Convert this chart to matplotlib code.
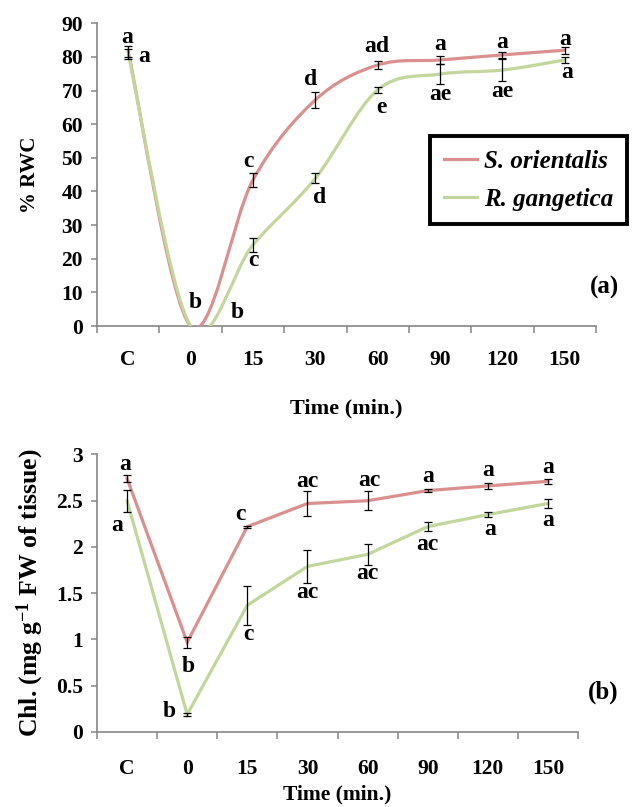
import numpy as np
import matplotlib
matplotlib.use("Agg")
import matplotlib.pyplot as plt
from matplotlib.path import Path
from matplotlib.patches import PathPatch
from matplotlib.lines import Line2D

plt.rcParams['font.family'] = ['Liberation Serif', 'DejaVu Serif']
plt.rcParams['font.weight'] = 'bold'
plt.rcParams['mathtext.fontset'] = 'custom'
plt.rcParams['mathtext.rm'] = 'Liberation Serif:bold'
plt.rcParams['mathtext.bf'] = 'Liberation Serif:bold'
plt.rcParams['mathtext.it'] = 'Liberation Serif:bold:italic'

# ---------------- data ----------------
categories = ['C', '0', '15', '30', '60', '90', '120', '150']
series_names = ['S. orientalis', 'R. gangetica']

rwc_so = [81.6, 0.0, 43.4, 67.2, 77.6, 79.1, 80.6, 82.0]
rwc_so_err = [1.7, 0.0, 2.2, 2.5, 1.2, 1.3, 1.0, 1.0]
rwc_rg = [81.0, 0.0, 24.1, 43.9, 70.2, 74.9, 76.1, 79.1]
rwc_rg_err = [1.5, 0.0, 2.0, 1.5, 1.0, 2.9, 3.2, 1.0]

chl_so = [2.74, 0.97, 2.22, 2.47, 2.50, 2.61, 2.66, 2.71]
chl_so_err = [0.04, 0.06, 0.01, 0.13, 0.10, 0.02, 0.03, 0.03]
chl_rg = [2.50, 0.19, 1.37, 1.79, 1.92, 2.22, 2.35, 2.47]
chl_rg_err = [0.12, 0.02, 0.21, 0.18, 0.11, 0.05, 0.03, 0.05]

rwc_so_letters = ['a', 'b', 'c', 'd', 'ad', 'a', 'a', 'a']
rwc_rg_letters = ['a', 'b', 'c', 'd', 'e', 'ae', 'ae', 'a']
chl_so_letters = ['a', 'b', 'c', 'ac', 'ac', 'a', 'a', 'a']
chl_rg_letters = ['a', 'b', 'c', 'ac', 'ac', 'ac', 'a', 'a']

rwc_yticks = [0, 10, 20, 30, 40, 50, 60, 70, 80, 90]
chl_yticks = [0, 0.5, 1, 1.5, 2, 2.5, 3]
chl_yticklabels = ['0', '0.5', '1', '1.5', '2', '2.5', '3']

# ---------------- style / positions ----------------
RED = '#D9908F'
GREEN = '#C3D69B'
SPINE = '#868686'
LW = 2.3
TICK_FS = 15.5
LETTER_FS = 17

# letter offsets in pixels (label centre relative to the point)
rwc_so_off = [(-1, 14), (5, 24), (-5, 19), (-5, 20.5), (-1, 18.5), (0, 15), (0, 12), (0, 11)]
rwc_rg_off = [(16, -3), (47, 14), (0, -16), (4, -19), (4, -18), (0, -20.4), (0, -21.5), (2, -13)]
chl_so_off = [(-2, 14.5), (1, -24), (-7, 12.6), (0, 22.5), (2, 20), (0, 13.6), (0, 15), (0, 14)]
chl_rg_off = [(-10, -25), (-18, 3), (1, -29), (0, -25.6), (0, -19.6), (0, -17.4), (2, -14.4), (0, -16.5)]


def smooth_path(xs, ys):
    """Catmull-Rom style Bezier path through the points (like Excel smoothed lines)."""
    pts = np.column_stack([xs, ys]).astype(float)
    n = len(pts)
    verts = [pts[0]]
    codes = [Path.MOVETO]
    for i in range(n - 1):
        p0 = pts[i - 1] if i > 0 else pts[i]
        p1 = pts[i]
        p2 = pts[i + 1]
        p3 = pts[i + 2] if i + 2 < n else pts[i + 1]
        c1 = p1 + (p2 - p0) / 6.0
        c2 = p2 - (p3 - p1) / 6.0
        verts += [c1, c2, p2]
        codes += [Path.CURVE4] * 3
    return Path(verts, codes)


def style_axes(ax, ylim, yticks, yticklabels=None, xpad=17):
    x = np.arange(len(categories))
    ax.set_xlim(-0.5, len(categories) - 0.5)
    ax.set_ylim(*ylim)
    ax.set_xticks(np.arange(-0.5, len(categories)), minor=False)
    ax.set_xticklabels([])
    ax.set_xticks(x, minor=True)
    ax.set_xticklabels(categories, minor=True)
    ax.tick_params(axis='x', which='major', direction='out', length=5, width=1.1, color=SPINE)
    ax.tick_params(axis='x', which='minor', length=0, pad=xpad, labelsize=TICK_FS)
    ax.set_yticks(yticks)
    if yticklabels is not None:
        ax.set_yticklabels(yticklabels)
    ax.tick_params(axis='y', direction='out', length=4, width=1.1, color=SPINE, pad=6,
                   labelsize=TICK_FS)
    for s in ['top', 'right']:
        ax.spines[s].set_visible(False)
    for s in ['left', 'bottom']:
        ax.spines[s].set_color(SPINE)
        ax.spines[s].set_linewidth(1.2)
    for lab in ax.get_xticklabels(minor=True) + ax.get_yticklabels():
        lab.set_fontweight('bold')


def draw_errors(ax, vals, errs):
    x = np.arange(len(vals))
    v = np.array(vals)
    e = np.array(errs)
    m = e > 0
    ax.errorbar(x[m], v[m], yerr=e[m], fmt='none', ecolor='black', elinewidth=0.9,
                capsize=2.6, capthick=0.9, zorder=5)


def draw_letters(ax, vals, letters, offs, size=LETTER_FS):
    for i, (v, t, o) in enumerate(zip(vals, letters, offs)):
        ax.annotate(t, (i, v), xytext=o, textcoords='offset pixels', ha='center', va='center',
                    fontsize=size, fontweight='bold', annotation_clip=False, zorder=6)


fig = plt.figure(figsize=(6.33, 8.07), dpi=100)

# ---------------- panel (a) ----------------
ax1 = fig.add_axes([0.15324, 0.59603, 0.78831, 0.37509])
style_axes(ax1, (0, 90), rwc_yticks, xpad=17)
x = np.arange(len(categories))
for vals, col in [(rwc_so, RED), (rwc_rg, GREEN)]:
    ax1.add_patch(PathPatch(smooth_path(x, vals), facecolor='none', edgecolor=col, lw=LW,
                            capstyle='round', joinstyle='round', zorder=3))
draw_errors(ax1, rwc_so, rwc_so_err)
draw_errors(ax1, rwc_rg, rwc_rg_err)
draw_letters(ax1, rwc_so, rwc_so_letters, rwc_so_off)
draw_letters(ax1, rwc_rg, rwc_rg_letters, rwc_rg_off)

ax1.set_xlabel('Time (min.)', fontsize=16, fontweight='bold', labelpad=21)
ax1.set_ylabel('% RWC', fontsize=15, fontweight='bold')
ax1.yaxis.label.set_va('center')
ax1.yaxis.set_label_coords(-0.134, 0.5)

handles = [Line2D([], [], color=RED, lw=LW), Line2D([], [], color=GREEN, lw=LW)]
leg = ax1.legend(handles, series_names, loc='upper left', bbox_to_anchor=(0.667, 0.628),
                 frameon=True, fancybox=False, edgecolor='black', framealpha=1,
                 prop={'family': 'Liberation Serif', 'weight': 'bold', 'style': 'italic', 'size': 18},
                 handlelength=1.32, handletextpad=0.28, borderpad=0.55, labelspacing=0.6,
                 borderaxespad=0)
leg.get_frame().set_linewidth(2.8)
leg.set_clip_on(False)
ax1.text(1.018, 0.129, '(a)', transform=ax1.transAxes, ha='center', va='center',
         fontsize=18, fontweight='bold')

# ---------------- panel (b) ----------------
ax2 = fig.add_axes([0.15324, 0.09294, 0.75988, 0.34387])
style_axes(ax2, (0, 3), chl_yticks, chl_yticklabels, xpad=19.5)
ax2.plot(x, chl_so, color=RED, lw=LW, zorder=3, solid_joinstyle='miter')
ax2.plot(x, chl_rg, color=GREEN, lw=LW, zorder=3, solid_joinstyle='miter')
draw_errors(ax2, chl_so, chl_so_err)
draw_errors(ax2, chl_rg, chl_rg_err)
draw_letters(ax2, chl_so, chl_so_letters, chl_so_off)
draw_letters(ax2, chl_rg, chl_rg_letters, chl_rg_off)

ax2.set_xlabel('Time (min.)', fontsize=15.5, fontweight='bold', labelpad=4)
ax2.set_ylabel(r'Chl. (mg g$^{\mathbf{-1}}$ FW of tissue)', fontsize=18.5, fontweight='bold')
ax2.yaxis.label.set_va('center')
ax2.yaxis.set_label_coords(-0.139, 0.5)
ax2.text(1.052, 0.144, '(b)', transform=ax2.transAxes, ha='center', va='center',
         fontsize=18, fontweight='bold')

fig.savefig('out.png', dpi=100)
